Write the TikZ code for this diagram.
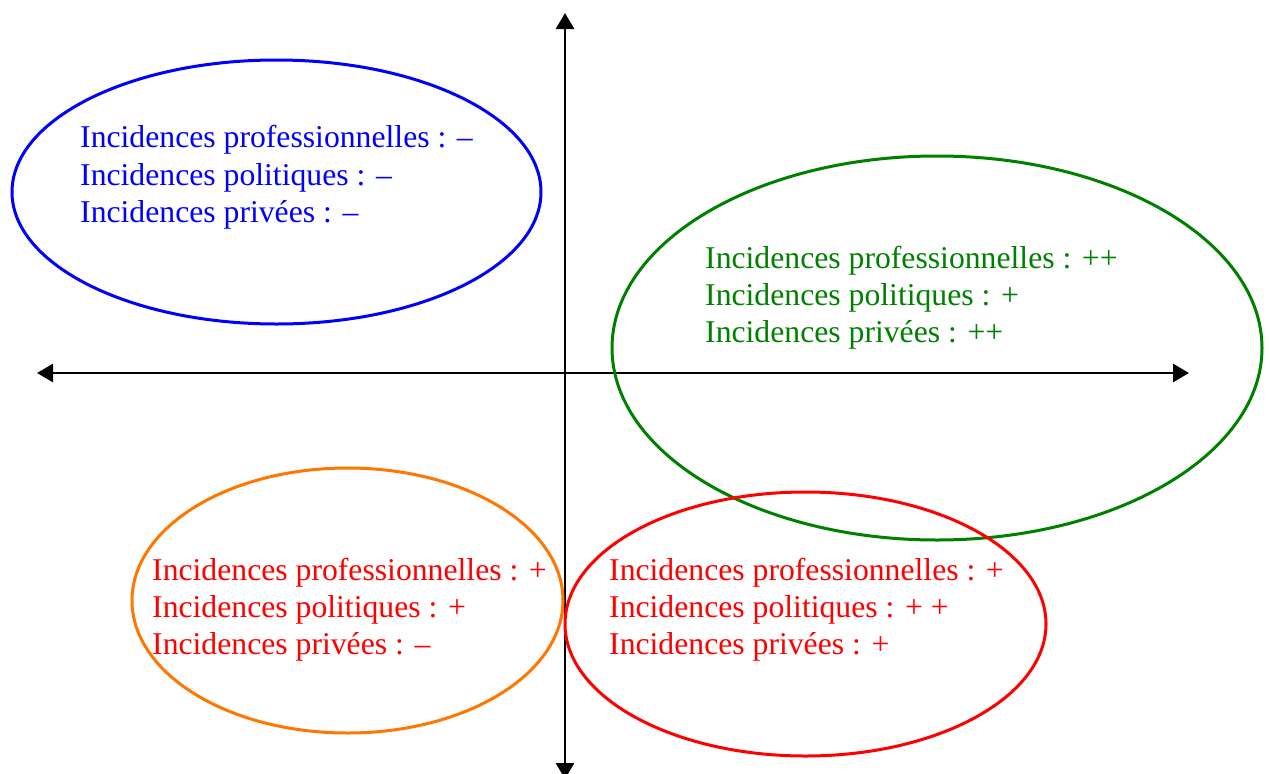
\documentclass[tikz,border=0pt]{standalone}
\usepackage{fontspec}
\setmainfont{Liberation Serif}
\usetikzlibrary{shapes.geometric,arrows.meta}
\definecolor{cblue}{RGB}{0,0,255}
\definecolor{cgreen}{RGB}{0,128,0}
\definecolor{corange}{RGB}{255,118,0}
\definecolor{cred}{RGB}{255,0,0}
\tikzset{
  axis/.style={line width=2.8pt, black, {Triangle[length=16pt,width=18pt]}-{Triangle[length=16pt,width=18pt]}},
  oval/.style={ellipse, draw, line width=3pt, inner sep=0pt},
  lab/.style={anchor=base west, inner sep=0pt, font=\fontsize{31.7}{37}\selectfont},
}
\begin{document}
\begin{tikzpicture}[x=1pt,y=-1pt]
\useasboundingbox (0,0) rectangle (1270,774);
% axes
\coordinate (vtop) at (565,13);
\coordinate (vbot) at (565,779);
\coordinate (hleft) at (37,373);
\coordinate (hright) at (1189,373);
\draw[axis] (vbot) -- (vtop);
\draw[axis] (hleft) -- (hright);
% ellipses
\node[oval, draw=cblue, minimum width=529pt, minimum height=264pt] (eblue) at (276.5,192) {};
\node[oval, draw=cgreen, minimum width=650pt, minimum height=384pt] (egreen) at (937,348) {};
\node[oval, draw=corange, minimum width=431pt, minimum height=265pt] (eorange) at (347.5,600.5) {};
\node[oval, draw=cred, minimum width=481pt, minimum height=264pt] (ered) at (805.5,624) {};
% blue text
\node[lab, text=cblue] (b1) at (80,147) {Incidences professionnelles : –};
\node[lab, text=cblue] (b2) at (80,185) {Incidences politiques : –};
\node[lab, text=cblue] (b3) at (80,222) {Incidences privées : –};
% green text
\node[lab, text=cgreen] (g1) at (705,268) {Incidences professionnelles : ++};
\node[lab, text=cgreen] (g2) at (705,305) {Incidences politiques : +};
\node[lab, text=cgreen] (g3) at (705,342) {Incidences privées : ++};
% orange-ellipse text (red)
\node[lab, text=cred] (o1) at (152,580) {Incidences professionnelles : +};
\node[lab, text=cred] (o2) at (152,617) {Incidences politiques : +};
\node[lab, text=cred] (o3) at (152,654) {Incidences privées : –};
% red text
\node[lab, text=cred] (r1) at (609,580) {Incidences professionnelles : +};
\node[lab, text=cred] (r2) at (609,617) {Incidences politiques : + +};
\node[lab, text=cred] (r3) at (609,654) {Incidences privées : +};
\end{tikzpicture}
\end{document}
